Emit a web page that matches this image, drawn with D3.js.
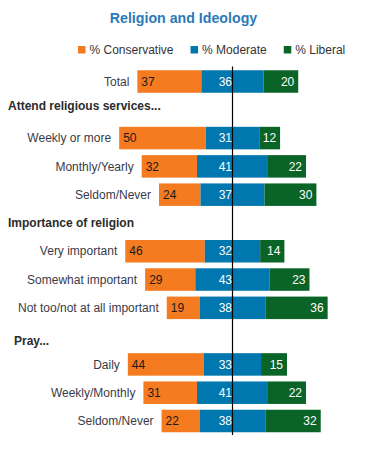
<!DOCTYPE html>
<html>
<head>
<meta charset="utf-8">
<script src="https://cdn.jsdelivr.net/npm/d3@7"></script>
<style>
  html, body { margin: 0; padding: 0; background: #fff; }
  svg { display: block; font-family: "Liberation Sans", Arial, Helvetica, sans-serif; }
</style>
</head>
<body>
<svg id="chart" width="367" height="450"></svg>
<script>
// ---- Data ----
const title = "Religion and Ideology";
const seriesNames = ["% Conservative", "% Moderate", "% Liberal"];
const rowLabels = [
  "Total",
  "Attend religious services...",
  "Weekly or more", "Monthly/Yearly", "Seldom/Never",
  "Importance of religion",
  "Very important", "Somewhat important", "Not too/not at all important",
  "Pray...",
  "Daily", "Weekly/Monthly", "Seldom/Never"
];
const isHeader = [false, true, false, false, false, true, false, false, false, true, false, false, false];
const conservative = [37, null, 50, 32, 24, null, 46, 29, 19, null, 44, 31, 22];
const moderate     = [36, null, 31, 41, 37, null, 32, 43, 38, null, 33, 41, 38];
const liberal      = [20, null, 12, 22, 30, null, 14, 23, 36, null, 15, 22, 32];

const colors = ["#f47b20", "#0077af", "#0b6427"];

// ---- Layout ----
const svg = d3.select("#chart");
const cx = 232.5, unit = 1.73;
const x = d3.scaleLinear().domain([-70, 60]).range([cx - 70 * unit, cx + 60 * unit]);
const y = d3.scalePoint().domain(d3.range(rowLabels.length)).range([81.5, 421]);
const barH = 22.5;
const headerLayout = [{ dx: 8, dy: -4 }, { dx: 8, dy: 0 }, { dx: 14, dy: 4.5 }];

// Title
svg.append("text")
  .attr("x", 183.5).attr("y", 23)
  .attr("text-anchor", "middle")
  .attr("font-size", 14.2).attr("font-weight", "bold")
  .attr("fill", "#2a7ab9")
  .text(title);

// Legend
let lx = 78;
seriesNames.forEach((name, i) => {
  svg.append("rect").attr("x", lx).attr("y", 46).attr("width", 7.5).attr("height", 7.5).attr("fill", colors[i]);
  const t = svg.append("text").attr("x", lx + 11.5).attr("y", 54)
    .attr("font-size", 12).attr("fill", "#333").text(name);
  lx += 11.5 + t.node().getComputedTextLength() + 17;
});

// Rows
const rows = d3.range(rowLabels.length).map(i => ({
  i, label: rowLabels[i], header: isHeader[i],
  c: conservative[i], m: moderate[i], l: liberal[i]
}));

rows.filter(d => d.header).forEach((d, k) => {
  svg.append("text")
    .attr("x", headerLayout[k].dx).attr("y", y(d.i) + headerLayout[k].dy).attr("dy", "0.35em")
    .attr("font-size", 12).attr("font-weight", "bold").attr("fill", "#2b2b2b")
    .text(d.label);
});

const data = rows.filter(d => !d.header);
const g = svg.append("g");

data.forEach(d => {
  const yc = y(d.i), top = yc - barH / 2;
  const segs = [
    [-(d.m / 2 + d.c), -d.m / 2],
    [-d.m / 2, d.m / 2],
    [d.m / 2, d.m / 2 + d.l]
  ];
  segs.forEach((s, k) => {
    g.append("rect")
      .attr("x", x(s[0])).attr("y", top)
      .attr("width", x(s[1]) - x(s[0])).attr("height", barH)
      .attr("fill", colors[k]);
  });
  // category label
  g.append("text")
    .attr("x", x(segs[0][0]) - 8).attr("y", yc).attr("dy", "0.35em")
    .attr("text-anchor", "end").attr("font-size", 12).attr("fill", "#3a3a48")
    .text(d.label);
  // values
  g.append("text")
    .attr("x", x(segs[0][0]) + 4).attr("y", yc).attr("dy", "0.35em")
    .attr("font-size", 12).attr("fill", "#1a1a1a").text(d.c);
  g.append("text")
    .attr("x", x(0) - 0.5).attr("y", yc).attr("dy", "0.35em")
    .attr("text-anchor", "end").attr("font-size", 12).attr("fill", "#fff").text(d.m);
  g.append("text")
    .attr("x", x(segs[2][1]) - 4).attr("y", yc).attr("dy", "0.35em")
    .attr("text-anchor", "end").attr("font-size", 12).attr("fill", "#fff").text(d.l);
});

// Center line
svg.append("line")
  .attr("x1", x(0)).attr("x2", x(0))
  .attr("y1", 66.5).attr("y2", 435)
  .attr("stroke", "#000").attr("stroke-width", 1.2);
</script>
</body>
</html>
